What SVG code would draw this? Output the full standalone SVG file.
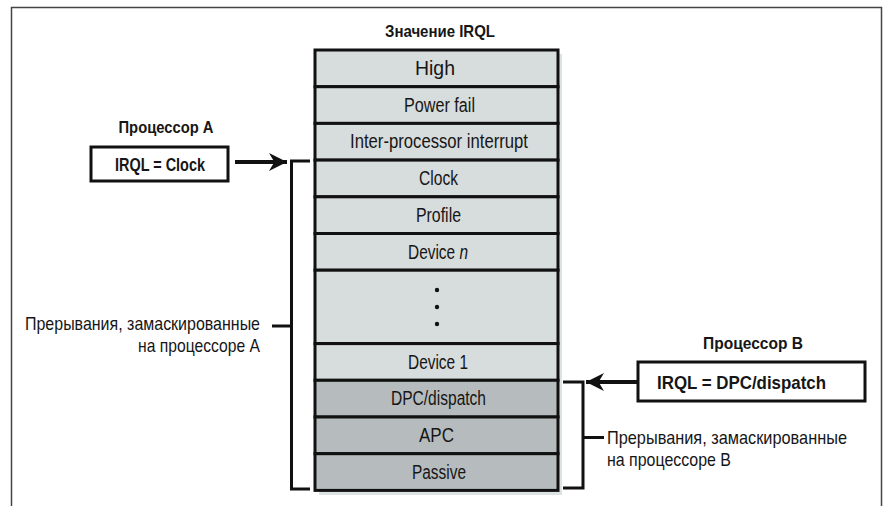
<svg xmlns="http://www.w3.org/2000/svg" width="885" height="506" viewBox="0 0 885 506">
  <style>
    .t { font-family: "Liberation Sans Narrow", "Liberation Sans", Arial, sans-serif; fill: #161616; }
    .row { font-size: 20px; text-anchor: middle; }
    .bold { font-weight: bold; }
    .lbl { font-size: 19px; }
    .cell { stroke: #111; stroke-width: 3; }
    .light { fill: #d7dcdc; }
    .dark { fill: #b6bcbd; }
    .ln { fill: none; stroke: #111; stroke-width: 3; }
    .box { fill: #fff; stroke: #111; stroke-width: 3; }
  </style>
  <defs>
    <marker id="head" viewBox="0 0 10 10" refX="10" refY="5" markerWidth="5.5" markerHeight="4.5" orient="auto" markerUnits="strokeWidth">
      <path d="M0,0 L10,5 L0,10 L3,5 Z" fill="#111"/>
    </marker>
  </defs>

  <rect x="0" y="0" width="885" height="506" fill="#fff"/>
  <!-- outer frame -->
  <path d="M11.5,506 V7.5 H881.5 V506" fill="none" stroke="#444" stroke-width="1.5"/>

  <!-- title -->
  <text class="t bold" x="440" y="37" font-size="16.5" text-anchor="middle" textLength="110" lengthAdjust="spacingAndGlyphs">Значение IRQL</text>

  <!-- IRQL level stack -->
  <g id="stack">
    <rect x="319" y="54" width="243" height="441" fill="#dde2e2"/>
    <g id="lvl-high"><rect class="cell light" x="315" y="50" width="243" height="36.7"/><text class="t row" x="435" y="75" textLength="40" lengthAdjust="spacingAndGlyphs">High</text></g>
    <g id="lvl-power"><rect class="cell light" x="315" y="86.7" width="243" height="36.7"/><text class="t row" x="439.5" y="111.7" textLength="71" lengthAdjust="spacingAndGlyphs">Power fail</text></g>
    <g id="lvl-ipi"><rect class="cell light" x="315" y="123.4" width="243" height="36.7"/><text class="t row" x="439" y="148.4" textLength="178" lengthAdjust="spacingAndGlyphs">Inter-processor interrupt</text></g>
    <g id="lvl-clock"><rect class="cell light" x="315" y="160.1" width="243" height="36.7"/><text class="t row" x="438.5" y="185.1" textLength="39" lengthAdjust="spacingAndGlyphs">Clock</text></g>
    <g id="lvl-profile"><rect class="cell light" x="315" y="196.8" width="243" height="36.7"/><text class="t row" x="438.5" y="221.8" textLength="45" lengthAdjust="spacingAndGlyphs">Profile</text></g>
    <g id="lvl-devn"><rect class="cell light" x="315" y="233.5" width="243" height="36.7"/><text class="t row" x="438" y="258.5" textLength="60" lengthAdjust="spacingAndGlyphs">Device <tspan font-style="italic">n</tspan></text></g>
    <g id="lvl-dots"><rect class="cell light" x="315" y="270.2" width="243" height="73.4"/>
      <circle cx="437" cy="290" r="2.2" fill="#111"/><circle cx="437" cy="307" r="2.2" fill="#111"/><circle cx="437" cy="324" r="2.2" fill="#111"/></g>
    <g id="lvl-dev1"><rect class="cell light" x="315" y="343.6" width="243" height="36.7"/><text class="t row" x="438" y="368.6" textLength="60" lengthAdjust="spacingAndGlyphs">Device 1</text></g>
    <g id="lvl-dpc"><rect class="cell dark" x="315" y="380.3" width="243" height="36.7"/><text class="t row" x="438.5" y="405.3" textLength="95" lengthAdjust="spacingAndGlyphs">DPC/dispatch</text></g>
    <g id="lvl-apc"><rect class="cell dark" x="315" y="417" width="243" height="36.7"/><text class="t row" x="436.5" y="442" textLength="35" lengthAdjust="spacingAndGlyphs">APC</text></g>
    <g id="lvl-passive"><rect class="cell dark" x="315" y="453.7" width="243" height="36.7"/><text class="t row" x="439" y="478.7" textLength="54" lengthAdjust="spacingAndGlyphs">Passive</text></g>
  </g>

  <!-- processor A -->
  <g id="cpu-a">
    <text class="t bold" x="166" y="133" font-size="16.5" text-anchor="middle" textLength="95" lengthAdjust="spacingAndGlyphs">Процессор A</text>
    <rect class="box" x="91" y="147" width="137" height="34"/>
    <text class="t bold" x="160" y="171" font-size="19" text-anchor="middle" textLength="90" lengthAdjust="spacingAndGlyphs">IRQL = Clock</text>
  </g>

  <!-- processor B -->
  <g id="cpu-b">
    <text class="t bold" x="753" y="349" font-size="16.5" text-anchor="middle" textLength="100" lengthAdjust="spacingAndGlyphs">Процессор B</text>
    <rect class="box" x="638" y="362" width="227" height="39"/>
    <text class="t bold" x="741.5" y="389" font-size="19" text-anchor="middle" textLength="169" lengthAdjust="spacingAndGlyphs">IRQL = DPC/dispatch</text>
  </g>

  <!-- masked-range labels -->
  <g id="label-a">
    <text class="t lbl" x="260" y="330" text-anchor="end" textLength="235" lengthAdjust="spacingAndGlyphs">Прерывания, замаскированные</text>
    <text class="t lbl" x="260" y="352" text-anchor="end" textLength="122" lengthAdjust="spacingAndGlyphs">на процессоре A</text>
  </g>
  <g id="label-b">
    <text class="t lbl" x="607" y="444" textLength="240" lengthAdjust="spacingAndGlyphs">Прерывания, замаскированные</text>
    <text class="t lbl" x="607" y="466" textLength="124" lengthAdjust="spacingAndGlyphs">на процессоре B</text>
  </g>

  <g id="connectors">
    <!-- bracket A: Clock down to Passive -->
    <path class="ln" d="M310,161 H291.5 V489 H310"/>
    <path class="ln" d="M272,326 H291.5"/>
    <!-- bracket B: DPC/dispatch down to Passive -->
    <path class="ln" d="M563,382 H583 V488 H563"/>
    <path class="ln" d="M583,437.5 H604"/>
    <!-- arrows -->
    <path d="M235,162 H287" stroke="#111" stroke-width="4" marker-end="url(#head)"/>
    <path d="M638,382 H586" stroke="#111" stroke-width="4" marker-end="url(#head)"/>
  </g>
</svg>
